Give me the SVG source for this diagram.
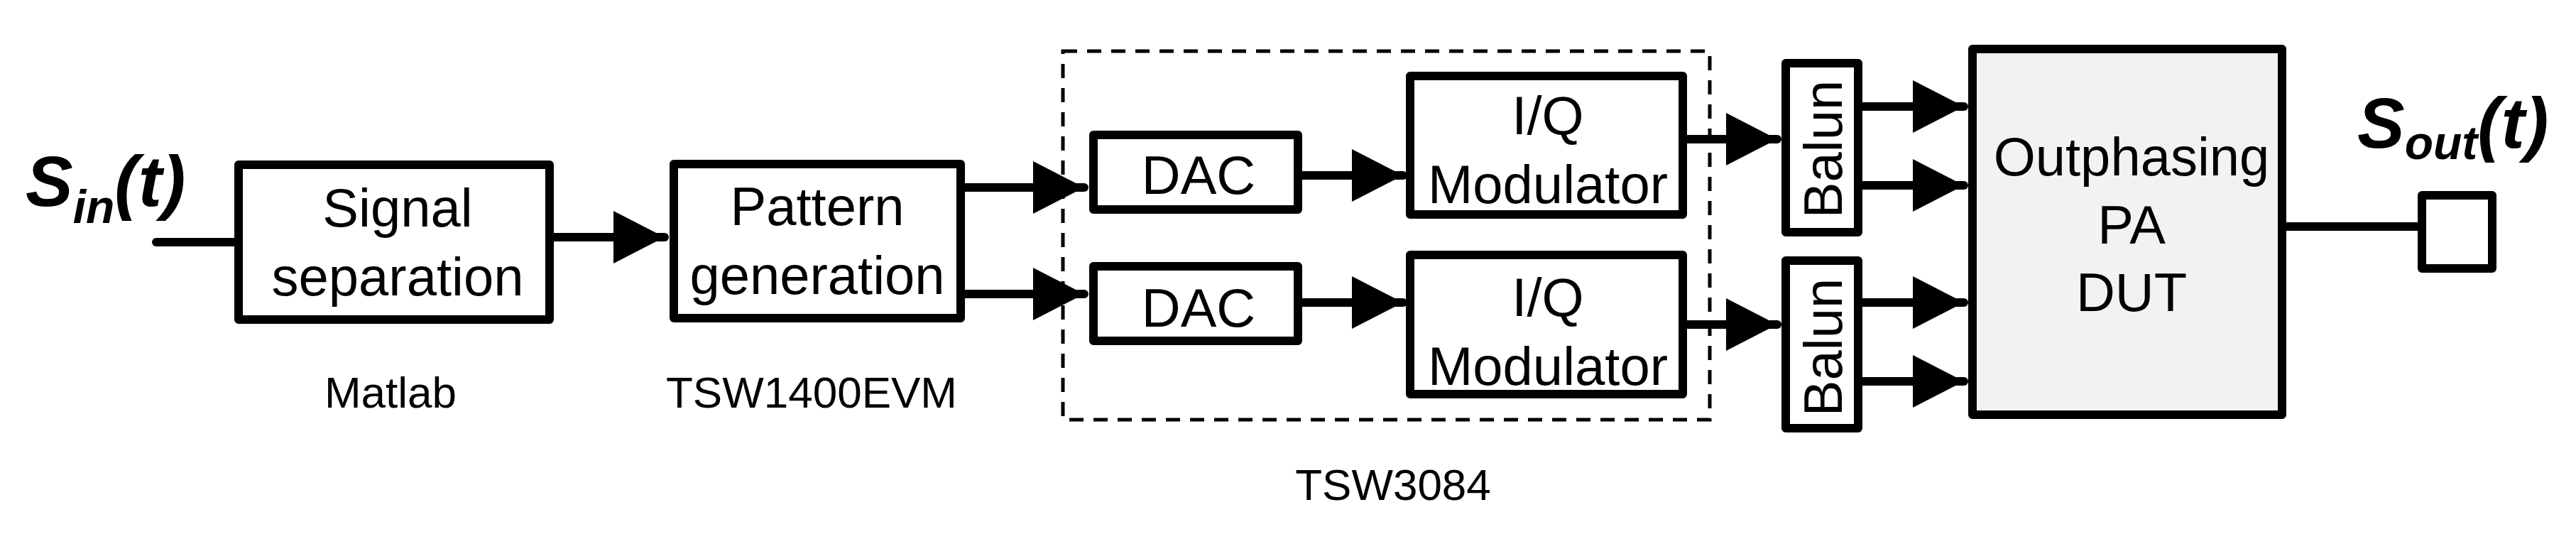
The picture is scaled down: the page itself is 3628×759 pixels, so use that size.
<svg xmlns="http://www.w3.org/2000/svg" width="3628" height="759" viewBox="0 0 3628 759">
<style>
.b{fill:#fff;stroke:#000;stroke-width:12;stroke-linejoin:round}
.l{stroke:#000;stroke-width:12;fill:none;stroke-linecap:round}
.t{font-family:"Liberation Sans",Arial,sans-serif;font-size:76px;text-anchor:middle;fill:#000}
.c{font-family:"Liberation Sans",Arial,sans-serif;font-size:62px;text-anchor:middle;fill:#000}
.s{font-family:"Liberation Sans",Arial,sans-serif;font-weight:bold;font-style:italic;fill:#000}
</style>
<defs>
<marker id="a" markerUnits="userSpaceOnUse" markerWidth="74" markerHeight="76" refX="72" refY="37" orient="auto"><path d="M0,0 L72,37 L0,74 Z" fill="#000"/></marker>
</defs>
<g id="connectors">
<line class="l" x1="220" y1="341" x2="330" y2="341"/>
<line class="l" x1="780" y1="334" x2="936" y2="334" marker-end="url(#a)"/>
<line class="l" x1="1359" y1="264" x2="1527" y2="264" marker-end="url(#a)"/>
<line class="l" x1="1359" y1="414" x2="1527" y2="414" marker-end="url(#a)"/>
<line class="l" x1="1834" y1="247" x2="1976" y2="247" marker-end="url(#a)"/>
<line class="l" x1="1834" y1="426" x2="1976" y2="426" marker-end="url(#a)"/>
<line class="l" x1="2376" y1="196" x2="2503" y2="196" marker-end="url(#a)"/>
<line class="l" x1="2376" y1="457" x2="2503" y2="457" marker-end="url(#a)"/>
<line class="l" x1="2623" y1="150" x2="2766" y2="150" marker-end="url(#a)"/>
<line class="l" x1="2623" y1="261" x2="2766" y2="261" marker-end="url(#a)"/>
<line class="l" x1="2623" y1="426" x2="2766" y2="426" marker-end="url(#a)"/>
<line class="l" x1="2623" y1="537" x2="2766" y2="537" marker-end="url(#a)"/>
<line class="l" x1="3220" y1="319" x2="3408" y2="319"/>
</g>
<g id="sin"><text class="s" x="36" y="290" font-size="100">S<tspan font-size="66" dy="24">in</tspan><tspan dy="-24">(t)</tspan></text></g>
<g id="sigsep"><rect class="b" x="336" y="232" width="438" height="218"/>
<text class="t" x="560" y="319">Signal</text><text class="t" x="560" y="416">separation</text>
<text class="c" x="550" y="574">Matlab</text></g>
<g id="patgen"><rect class="b" x="949" y="231" width="404" height="217"/>
<text class="t" x="1151" y="317">Pattern</text><text class="t" x="1151" y="414">generation</text>
<text class="c" x="1143" y="574">TSW1400EVM</text></g>
<g id="tsw3084"><rect x="1497" y="72" width="911" height="519" fill="none" stroke="#000" stroke-width="5" stroke-dasharray="20,14"/>
<text class="c" x="1962" y="704">TSW3084</text></g>
<g id="dac1"><rect class="b" x="1540" y="190" width="288" height="105"/><text class="t" x="1688" y="273">DAC</text></g>
<g id="dac2"><rect class="b" x="1540" y="375" width="288" height="105"/><text class="t" x="1688" y="460">DAC</text></g>
<g id="iq1"><rect class="b" x="1986" y="107" width="384" height="195"/><text class="t" x="2180" y="189">I/Q</text><text class="t" x="2180" y="286">Modulator</text></g>
<g id="iq2"><rect class="b" x="1986" y="359" width="384" height="196"/><text class="t" x="2180" y="445">I/Q</text><text class="t" x="2180" y="542">Modulator</text></g>
<g id="balun1"><rect class="b" x="2515" y="89" width="102" height="238"/><text class="t" font-size="70" transform="translate(2594,210) rotate(-90)">Balun</text></g>
<g id="balun2"><rect class="b" x="2515" y="367" width="102" height="236"/><text class="t" font-size="70" transform="translate(2594,489) rotate(-90)">Balun</text></g>
<g id="pa"><rect class="b" x="2778" y="69" width="436" height="515" style="fill:#f2f2f2"/>
<text class="t" x="3002" y="247">Outphasing</text><text class="t" x="3002" y="343">PA</text><text class="t" x="3002" y="438">DUT</text></g>
<g id="out"><rect class="b" x="3411" y="275" width="99" height="103"/>
<text class="s" x="3320" y="208" font-size="100">S<tspan font-size="66" dy="16">out</tspan><tspan dy="-16">(t)</tspan></text></g>
</svg>
